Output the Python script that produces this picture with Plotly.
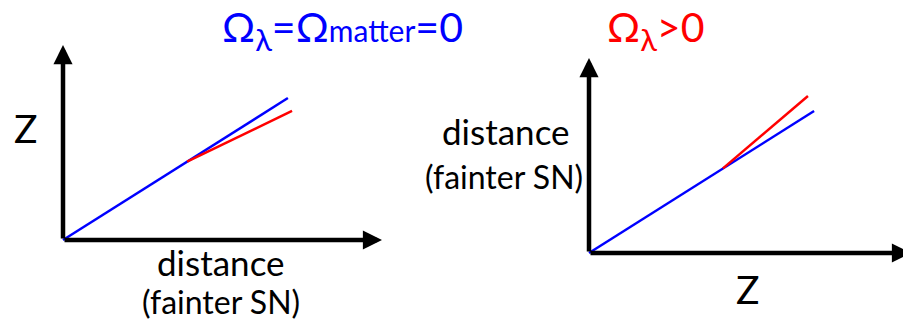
import plotly.graph_objects as go

W, H = 903, 323

# ---- data (abstract units: origin = 0, axis tip = 1) ----
axis_x = [0, 1]            # horizontal axis from origin to tip
axis_y = [0, 1]            # vertical axis from origin to tip

left_blue_x = [0, 0.705]
left_blue_y = [0, 0.728]
left_red_x = [0.389, 0.718]
left_red_y = [0.402, 0.662]

right_blue_x = [0, 0.699]
right_blue_y = [0, 0.728]
right_red_x = [0.416, 0.680]
right_red_y = [0.434, 0.805]

SUBL = '<sub><span style="font-size:31px">λ</span></sub>'
left_title = "Ω" + SUBL + '=Ω<span style="font-size:30px">matter</span>=0'
right_title = "Ω" + SUBL + ">0"
left_xlabel = "distance"
left_xsub = "(fainter SN)"
left_ylabel = "Z"
right_ylabel = "distance"
right_ysub = "(fainter SN)"
right_xlabel = "Z"

BLUE = "#0000ff"
RED = "#ff0000"
FONT = "Lato"

# panel geometry in pixels: origin and axis lengths
panels = {
    "left": dict(ox=63, oy=240, lx=319, ly=195),
    "right": dict(ox=589, oy=253, lx=322, ly=195),
}
PAD = 0.1  # range padding in units


def axes_cfg(p):
    px0 = max(0, p["ox"] - PAD * p["lx"])
    px1 = min(W, p["ox"] + (1 + PAD) * p["lx"])
    pyb = min(H, p["oy"] + PAD * p["ly"])
    pyt = max(0, p["oy"] - (1 + PAD) * p["ly"])
    xr = [(px0 - p["ox"]) / p["lx"], (px1 - p["ox"]) / p["lx"]]
    yr = [(p["oy"] - pyb) / p["ly"], (p["oy"] - pyt) / p["ly"]]
    return [px0 / W, px1 / W], [1 - pyb / H, 1 - pyt / H], xr, yr


fig = go.Figure()

traces = [
    ("x", "y", left_blue_x, left_blue_y, BLUE),
    ("x", "y", left_red_x, left_red_y, RED),
    ("x2", "y2", right_blue_x, right_blue_y, BLUE),
    ("x2", "y2", right_red_x, right_red_y, RED),
]
for xa, ya, xs, ys, c in traces:
    fig.add_trace(go.Scatter(x=xs, y=ys, mode="lines", xaxis=xa, yaxis=ya,
                             line=dict(color=c, width=2.5), showlegend=False,
                             hoverinfo="skip", cliponaxis=False))

anns = []
# axes arrows
for xr, yr in [("x", "y"), ("x2", "y2")]:
    anns.append(dict(x=axis_x[1], y=axis_y[0], ax=axis_x[0], ay=axis_y[0],
                     xref=xr, yref=yr, axref=xr, ayref=yr, text="",
                     showarrow=True, arrowhead=2, arrowwidth=4.5, arrowsize=0.85,
                     arrowcolor="black"))
    anns.append(dict(x=axis_x[0], y=axis_y[1], ax=axis_x[0], ay=axis_y[0],
                     xref=xr, yref=yr, axref=xr, ayref=yr, text="",
                     showarrow=True, arrowhead=2, arrowwidth=4.5, arrowsize=0.85,
                     arrowcolor="black"))


def txt(text, px, py, color="black", size=34, yanchor="middle"):
    anns.append(dict(text=text, x=px / W, y=1 - py / H, xref="paper", yref="paper",
                     xanchor="center", yanchor=yanchor, showarrow=False,
                     font=dict(family=FONT, size=size, color=color)))


txt(left_title, 342, 30, BLUE, 41)
txt(right_title, 655, 30, RED, 41)
txt(left_ylabel, 25, 128, size=39)
txt(left_xlabel, 221, 262, size=35)
txt(left_xsub, 221, H, size=32, yanchor="bottom")
txt(right_ylabel, 506, 131, size=35)
txt(right_ysub, 504, 176, size=32)
txt(right_xlabel, 747, 289, size=39)

fig.update_layout(annotations=anns)

for key, (xa, ya) in zip(["left", "right"], [("xaxis", "yaxis"), ("xaxis2", "yaxis2")]):
    dx, dy, rx, ry = axes_cfg(panels[key])
    fig.layout[xa] = dict(domain=dx, range=rx, visible=False,
                          anchor=ya.replace("axis", ""))
    fig.layout[ya] = dict(domain=dy, range=ry, visible=False,
                          anchor=xa.replace("axis", ""))

fig.update_layout(width=W, height=H, margin=dict(l=0, r=0, t=0, b=0),
                  paper_bgcolor="white", plot_bgcolor="rgba(0,0,0,0)",
                  showlegend=False)

fig.write_html("out.html", config={"displayModeBar": False},
               post_script="document.body.style.margin='0';")
